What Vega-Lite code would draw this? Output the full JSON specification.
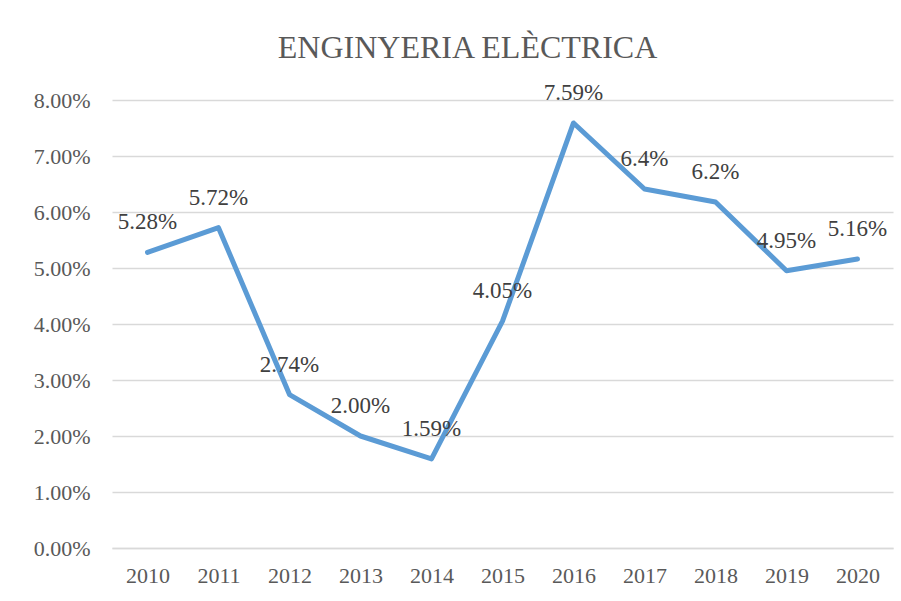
{
  "$schema": "https://vega.github.io/schema/vega-lite/v6.json",
  "autosize": "none",
  "width": 781,
  "height": 448,
  "padding": {"left": 112, "top": 100, "right": 8, "bottom": 53},
  "background": "white",
  "title": {
    "text": "ENGINYERIA ELÈCTRICA",
    "font": "Liberation Serif",
    "fontSize": 32,
    "fontWeight": "normal",
    "color": "#595959",
    "anchor": "middle",
    "dx": -35,
    "offset": 17
  },
  "config": {
    "view": {"stroke": null},
    "axis": {
      "labelFont": "Liberation Serif",
      "labelFontSize": 22,
      "labelColor": "#595959",
      "ticks": false,
      "title": null,
      "gridColor": "#D9D9D9",
      "gridWidth": 1.3
    }
  },
  "data": {
    "values": [
      {"year": "2010", "value": 5.28, "label": "5.28%"},
      {"year": "2011", "value": 5.72, "label": "5.72%"},
      {"year": "2012", "value": 2.74, "label": "2.74%"},
      {"year": "2013", "value": 2.00, "label": "2.00%"},
      {"year": "2014", "value": 1.59, "label": "1.59%"},
      {"year": "2015", "value": 4.05, "label": "4.05%"},
      {"year": "2016", "value": 7.59, "label": "7.59%"},
      {"year": "2017", "value": 6.41, "label": "6.4%"},
      {"year": "2018", "value": 6.18, "label": "6.2%"},
      {"year": "2019", "value": 4.95, "label": "4.95%"},
      {"year": "2020", "value": 5.16, "label": "5.16%"}
    ]
  },
  "encoding": {
    "x": {
      "field": "year",
      "type": "ordinal",
      "scale": {"type": "point", "padding": 0.5},
      "axis": {
        "labelAngle": 0,
        "labelPadding": 17,
        "domain": true,
        "domainColor": "#D9D9D9",
        "domainWidth": 1.3,
        "grid": false
      }
    },
    "y": {
      "field": "value",
      "type": "quantitative",
      "scale": {"domain": [0, 8], "nice": false, "zero": true},
      "axis": {
        "values": [0, 1, 2, 3, 4, 5, 6, 7, 8],
        "labelExpr": "format(datum.value, '.2f') + '%'",
        "labelPadding": 22,
        "domain": false,
        "grid": true
      }
    }
  },
  "layer": [
    {
      "mark": {"type": "line", "color": "#5B9BD5", "strokeWidth": 5, "strokeJoin": "round", "strokeCap": "round"}
    },
    {
      "mark": {
        "type": "text",
        "font": "Liberation Serif",
        "fontSize": 23,
        "color": "#404040",
        "baseline": "middle",
        "dy": -30
      },
      "encoding": {"text": {"field": "label"}}
    }
  ]
}
